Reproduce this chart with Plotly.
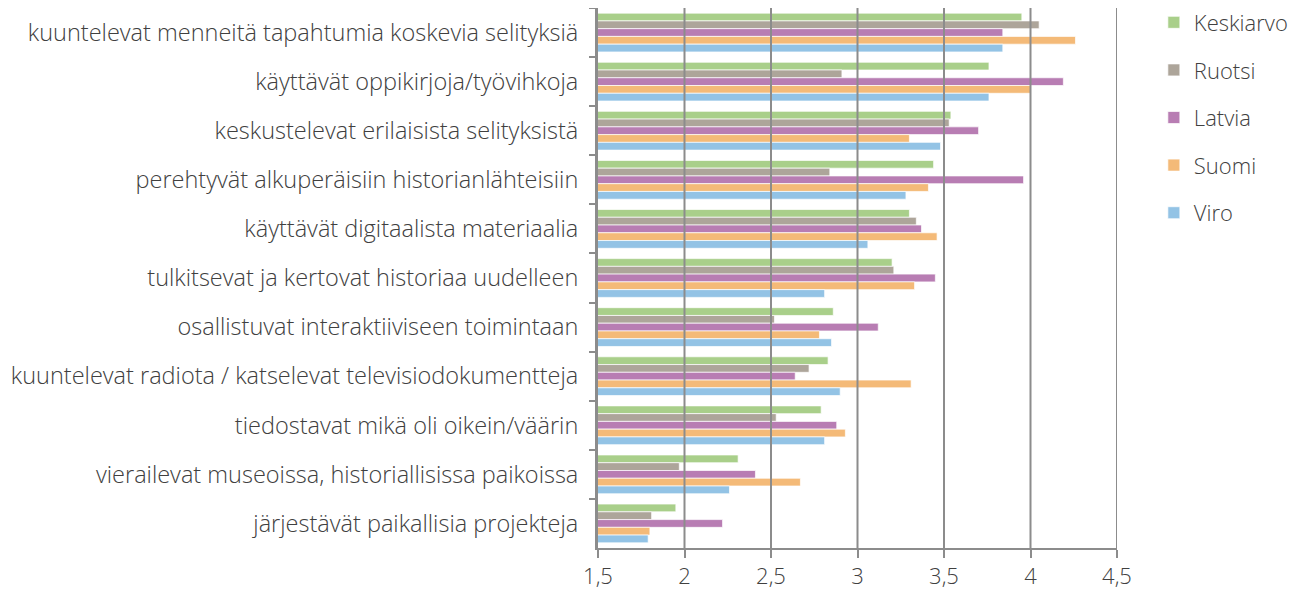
import plotly.graph_objects as go

categories = [
    "kuuntelevat menneitä tapahtumia koskevia selityksiä",
    "käyttävät oppikirjoja/työvihkoja",
    "keskustelevat erilaisista selityksistä",
    "perehtyvät alkuperäisiin historianlähteisiin",
    "käyttävät digitaalista materiaalia",
    "tulkitsevat ja kertovat historiaa uudelleen",
    "osallistuvat interaktiiviseen toimintaan",
    "kuuntelevat radiota / katselevat televisiodokumentteja",
    "tiedostavat mikä oli oikein/väärin",
    "vierailevat museoissa, historiallisissa paikoissa",
    "järjestävät paikallisia projekteja",
]

keskiarvo = [3.95, 3.76, 3.54, 3.44, 3.30, 3.20, 2.86, 2.83, 2.79, 2.31, 1.95]
ruotsi    = [4.05, 2.91, 3.53, 2.84, 3.34, 3.21, 2.52, 2.72, 2.53, 1.97, 1.81]
latvia    = [3.84, 4.19, 3.70, 3.96, 3.37, 3.45, 3.12, 2.64, 2.88, 2.41, 2.22]
suomi     = [4.26, 4.00, 3.30, 3.41, 3.46, 3.33, 2.78, 3.31, 2.93, 2.67, 1.80]
viro      = [3.84, 3.76, 3.48, 3.28, 3.06, 2.81, 2.85, 2.90, 2.81, 2.26, 1.79]

series_names = ["Keskiarvo", "Ruotsi", "Latvia", "Suomi", "Viro"]
series_values = [keskiarvo, ruotsi, latvia, suomi, viro]
series_colors = ["#A9CF8A", "#ADA59A", "#B87DB3", "#F4BA78", "#93C3E5"]

tick_vals = [1.5, 2, 2.5, 3, 3.5, 4, 4.5]
tick_text = ["1,5", "2", "2,5", "3", "3,5", "4", "4,5"]

fig = go.Figure()
for name, vals, col in zip(series_names, series_values, series_colors):
    fig.add_trace(go.Bar(
        y=categories, x=vals, name=name, orientation="h",
        marker=dict(color=col, line=dict(color="rgba(255,255,255,0.7)", width=1)),
        legendgroup=name,
    ))

# gridlines drawn above bars
for v in tick_vals[1:]:
    fig.add_shape(type="line", xref="x", yref="paper", x0=v, x1=v, y0=0, y1=1,
                  line=dict(color="#8C8C8C", width=2), layer="above")

fig.update_layout(
    width=1290, height=581,
    barmode="group", bargap=0.21, bargroupgap=0,
    plot_bgcolor="white", paper_bgcolor="white",
    margin=dict(l=590, r=181, t=0, b=41, autoexpand=False),
    font=dict(family="Open Sans", size=22, color="#404040", weight=300),
    separators=", ",
    legend=dict(x=1.071, y=1.012, xanchor="left", yanchor="top",
                traceorder="grouped", tracegroupgap=16,
                font=dict(size=22, color="#404040", weight=300), itemwidth=30),
    xaxis=dict(range=[1.5, 4.5], tickvals=tick_vals, ticktext=tick_text,
               showgrid=False, zeroline=False, showline=True,
               linecolor="#8C8C8C", linewidth=2, ticks="outside", ticklen=8,
               tickcolor="#8C8C8C", tickwidth=2,
               tickfont=dict(size=22, color="#404040", weight=300)),
    yaxis=dict(autorange="reversed", type="category", tickson="boundaries",
               showgrid=False, showline=True, linecolor="#8C8C8C", linewidth=3,
               ticks="outside", ticklen=6, tickcolor="#8C8C8C", tickwidth=2,
               ticklabelstandoff=12,
               tickfont=dict(size=23.5, color="#404040", weight=300)),
)

fig.write_html("out.html")
